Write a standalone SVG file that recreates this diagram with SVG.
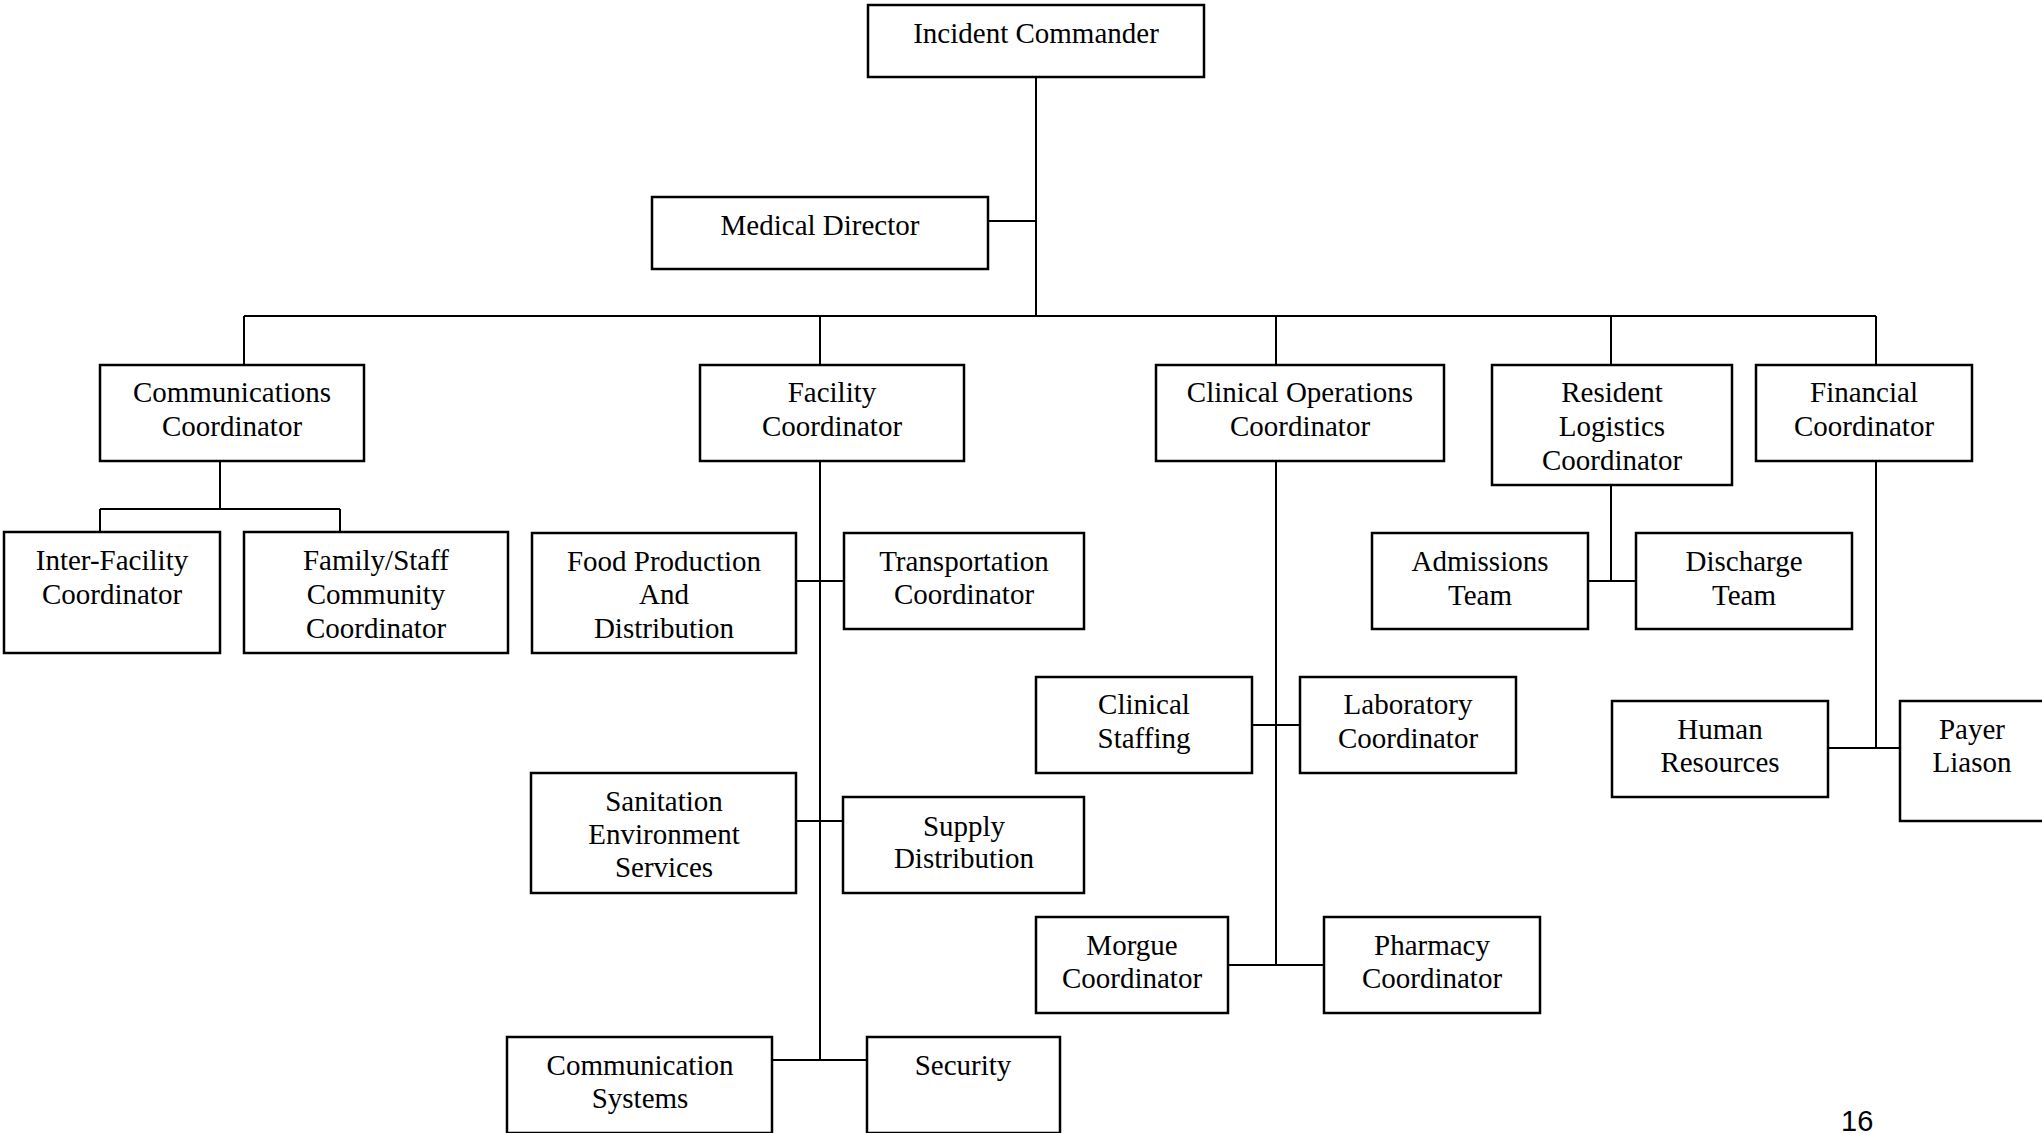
<svg xmlns="http://www.w3.org/2000/svg" width="2042" height="1133" viewBox="0 0 2042 1133">
<style>
.box{fill:#fff;stroke:#000;stroke-width:2.5}
.t{font-family:"Liberation Serif","Times New Roman",serif;font-size:29px;fill:#000;text-anchor:middle}
.c{fill:none;stroke:#000;stroke-width:2}
.pg{font-family:"Liberation Sans",Arial,sans-serif;font-size:29px;fill:#000}
</style>
<rect width="2042" height="1133" fill="#fff"/>
<g id="connectors">
<path class="c" d="M1036 77V316M988 221H1036M244 316H1876M244 316V365M820 316V365M1276 316V365M1611 316V365M1876 316V365"/>
<path class="c" d="M220 461V509M100 509H340M100 509V532M340 509V532"/>
<path class="c" d="M820 461V1060M796 581H844M796 821H843M772 1060H867"/>
<path class="c" d="M1276 461V965M1252 725H1300M1228 965H1324"/>
<path class="c" d="M1611 485V581M1588 581H1636"/>
<path class="c" d="M1876 461V748M1828 748H1900"/>
</g>
<g id="n-ic"><rect class="box" x="868" y="5" width="336" height="72"/><text class="t" x="1036" y="43">Incident Commander</text></g>
<g id="n-md"><rect class="box" x="652" y="197" width="336" height="72"/><text class="t" x="820" y="235">Medical Director</text></g>
<g id="n-comm"><rect class="box" x="100" y="365" width="264" height="96"/><text class="t" x="232" y="402">Communications</text><text class="t" x="232" y="436">Coordinator</text></g>
<g id="n-interfac"><rect class="box" x="4" y="532" width="216" height="121"/><text class="t" x="112" y="570">Inter-Facility</text><text class="t" x="112" y="604">Coordinator</text></g>
<g id="n-family"><rect class="box" x="244" y="532" width="264" height="121"/><text class="t" x="376" y="570">Family/Staff</text><text class="t" x="376" y="604">Community</text><text class="t" x="376" y="638">Coordinator</text></g>
<g id="n-facility"><rect class="box" x="700" y="365" width="264" height="96"/><text class="t" x="832" y="402">Facility</text><text class="t" x="832" y="436">Coordinator</text></g>
<g id="n-food"><rect class="box" x="532" y="533" width="264" height="120"/><text class="t" x="664" y="571">Food Production</text><text class="t" x="664" y="604">And</text><text class="t" x="664" y="638">Distribution</text></g>
<g id="n-transport"><rect class="box" x="844" y="533" width="240" height="96"/><text class="t" x="964" y="571">Transportation</text><text class="t" x="964" y="604">Coordinator</text></g>
<g id="n-sanitation"><rect class="box" x="531" y="773" width="265" height="120"/><text class="t" x="664" y="811">Sanitation</text><text class="t" x="664" y="844">Environment</text><text class="t" x="664" y="877">Services</text></g>
<g id="n-supply"><rect class="box" x="843" y="797" width="241" height="96"/><text class="t" x="964" y="836">Supply</text><text class="t" x="964" y="868">Distribution</text></g>
<g id="n-commsys"><rect class="box" x="507" y="1037" width="265" height="96"/><text class="t" x="640" y="1075">Communication</text><text class="t" x="640" y="1108">Systems</text></g>
<g id="n-security"><rect class="box" x="867" y="1037" width="193" height="96"/><text class="t" x="963" y="1075">Security</text></g>
<g id="n-clinops"><rect class="box" x="1156" y="365" width="288" height="96"/><text class="t" x="1300" y="402">Clinical Operations</text><text class="t" x="1300" y="436">Coordinator</text></g>
<g id="n-staffing"><rect class="box" x="1036" y="677" width="216" height="96"/><text class="t" x="1144" y="714">Clinical</text><text class="t" x="1144" y="748">Staffing</text></g>
<g id="n-lab"><rect class="box" x="1300" y="677" width="216" height="96"/><text class="t" x="1408" y="714">Laboratory</text><text class="t" x="1408" y="748">Coordinator</text></g>
<g id="n-morgue"><rect class="box" x="1036" y="917" width="192" height="96"/><text class="t" x="1132" y="955">Morgue</text><text class="t" x="1132" y="988">Coordinator</text></g>
<g id="n-pharmacy"><rect class="box" x="1324" y="917" width="216" height="96"/><text class="t" x="1432" y="955">Pharmacy</text><text class="t" x="1432" y="988">Coordinator</text></g>
<g id="n-resident"><rect class="box" x="1492" y="365" width="240" height="120"/><text class="t" x="1612" y="402">Resident</text><text class="t" x="1612" y="436">Logistics</text><text class="t" x="1612" y="470">Coordinator</text></g>
<g id="n-admissions"><rect class="box" x="1372" y="533" width="216" height="96"/><text class="t" x="1480" y="571">Admissions</text><text class="t" x="1480" y="605">Team</text></g>
<g id="n-discharge"><rect class="box" x="1636" y="533" width="216" height="96"/><text class="t" x="1744" y="571">Discharge</text><text class="t" x="1744" y="605">Team</text></g>
<g id="n-financial"><rect class="box" x="1756" y="365" width="216" height="96"/><text class="t" x="1864" y="402">Financial</text><text class="t" x="1864" y="436">Coordinator</text></g>
<g id="n-hr"><rect class="box" x="1612" y="701" width="216" height="96"/><text class="t" x="1720" y="739">Human</text><text class="t" x="1720" y="772">Resources</text></g>
<g id="n-payer"><rect class="box" x="1900" y="701" width="144" height="120"/><text class="t" x="1972" y="739">Payer</text><text class="t" x="1972" y="772">Liason</text></g>
<text class="pg" x="1841" y="1131">16</text>
</svg>
